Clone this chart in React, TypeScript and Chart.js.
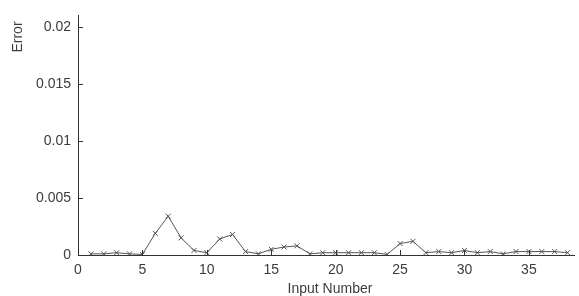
import React, { useEffect, useRef } from "react";
import { Chart, registerables } from "chart.js";

Chart.register(...registerables);

const inputNumbers = [
  1, 2, 3, 4, 5, 6, 7, 8, 9, 10, 11, 12, 13, 14, 15, 16, 17, 18, 19, 20, 21, 22, 23, 24, 25,
  26, 27, 28, 29, 30, 31, 32, 33, 34, 35, 36, 37, 38,
];
const errors = [
  0.0001, 0.0001, 0.0002, 0.0001, 0.00005, 0.0019, 0.0034, 0.0015, 0.0004, 0.0002, 0.0014,
  0.0018, 0.0003, 0.0001, 0.0005, 0.0007, 0.0008, 0.0001, 0.0002, 0.0002, 0.0002, 0.0002,
  0.0002, 0.00005, 0.001, 0.0012, 0.0002, 0.0003, 0.0002, 0.0004, 0.0002, 0.0003, 0.0001,
  0.0003, 0.0003, 0.0003, 0.0003, 0.0002,
];
const xTicks = [0, 5, 10, 15, 20, 25, 30, 35];
const yTicks = [0, 0.005, 0.01, 0.015, 0.02];
const yTickLabels = ["0", "0.005", "0.01", "0.015", "0.02"];
const xTitle = "Input Number";
const yTitle = "Error";

const AXIS_COLOR = "#333333";
const TEXT_COLOR = "#3c3c3c";
const FONT = "Liberation Sans, Arial, sans-serif";

const innerTicks = {
  id: "innerTicks",
  afterDatasetsDraw(chart: any) {
    const ctx = chart.ctx;
    const area = chart.chartArea;
    const xs = chart.scales.x;
    const ys = chart.scales.y;
    ctx.save();
    ctx.strokeStyle = AXIS_COLOR;
    ctx.lineWidth = 1;
    ctx.beginPath();
    for (const v of xTicks) {
      const px = Math.round(xs.getPixelForValue(v)) + 0.5;
      ctx.moveTo(px, area.bottom);
      ctx.lineTo(px, area.bottom - 5);
    }
    for (const v of yTicks) {
      const py = Math.round(ys.getPixelForValue(v)) + 0.5;
      ctx.moveTo(area.left, py);
      ctx.lineTo(area.left + 5, py);
    }
    ctx.stroke();
    // y title
    ctx.fillStyle = TEXT_COLOR;
    ctx.font = `14px ${FONT}`;
    ctx.translate(18, 37);
    ctx.rotate(-Math.PI / 2);
    ctx.textAlign = "center";
    ctx.textBaseline = "middle";
    ctx.fillText(yTitle, 0, 0);
    ctx.restore();
    ctx.save();
    ctx.fillStyle = TEXT_COLOR;
    ctx.font = `14px ${FONT}`;
    ctx.textAlign = "center";
    ctx.textBaseline = "middle";
    ctx.fillText(xTitle, (area.left + area.right) / 2 + 4, 289);
    ctx.restore();
  },
};

export default function App() {
  const ref = useRef<HTMLCanvasElement | null>(null);
  useEffect(() => {
    if (!ref.current) return;
    const chart = new Chart(ref.current, {
      type: "line",
      data: {
        datasets: [
          {
            data: inputNumbers.map((x, i) => ({ x, y: errors[i] })),
            borderColor: "#555555",
            borderWidth: 1,
            pointStyle: "crossRot",
            pointRadius: 3.5,
            pointBorderColor: "#555555",
            pointBorderWidth: 1,
            pointBackgroundColor: "#555555",
            tension: 0,
            fill: false,
          },
        ],
      },
      options: {
        animation: false,
        responsive: false,
        maintainAspectRatio: false,
        layout: { padding: { top: 10, right: 0, left: 0, bottom: 0 } },
        plugins: { legend: { display: false }, tooltip: { enabled: false } },
        scales: {
          x: {
            type: "linear",
            min: 0,
            max: 38.5,
            afterBuildTicks: (s: any) => {
              s.ticks = xTicks.map((v) => ({ value: v }));
            },
            afterFit: (s: any) => {
              s.height = 41;
            },
            grid: { drawOnChartArea: false, drawTicks: false },
            border: { display: true, color: AXIS_COLOR, width: 1 },
            ticks: {
              padding: 7,
              color: TEXT_COLOR,
              font: { family: FONT, size: 14 },
              maxRotation: 0,
              autoSkip: false,
              callback: (v: any) => String(v),
            },
          },
          y: {
            type: "linear",
            min: 0,
            max: 0.021,
            afterBuildTicks: (s: any) => {
              s.ticks = yTicks.map((v) => ({ value: v }));
            },
            afterFit: (s: any) => {
              s.width = 78;
            },
            grid: { drawOnChartArea: false, drawTicks: false },
            border: { display: true, color: AXIS_COLOR, width: 1 },
            ticks: {
              padding: 7,
              color: TEXT_COLOR,
              font: { family: FONT, size: 14 },
              autoSkip: false,
              callback: (v: any) => {
                const i = yTicks.indexOf(v);
                return i >= 0 ? yTickLabels[i] : "";
              },
            },
          },
        },
      },
      plugins: [innerTicks],
    });
    return () => chart.destroy();
  }, []);
  return (
    <div style={{ position: "fixed", left: 0, top: 0, width: 579, height: 296, background: "#fff" }}>
      <canvas ref={ref} width={579} height={296} style={{ width: 579, height: 296, display: "block" }} />
    </div>
  );
}
